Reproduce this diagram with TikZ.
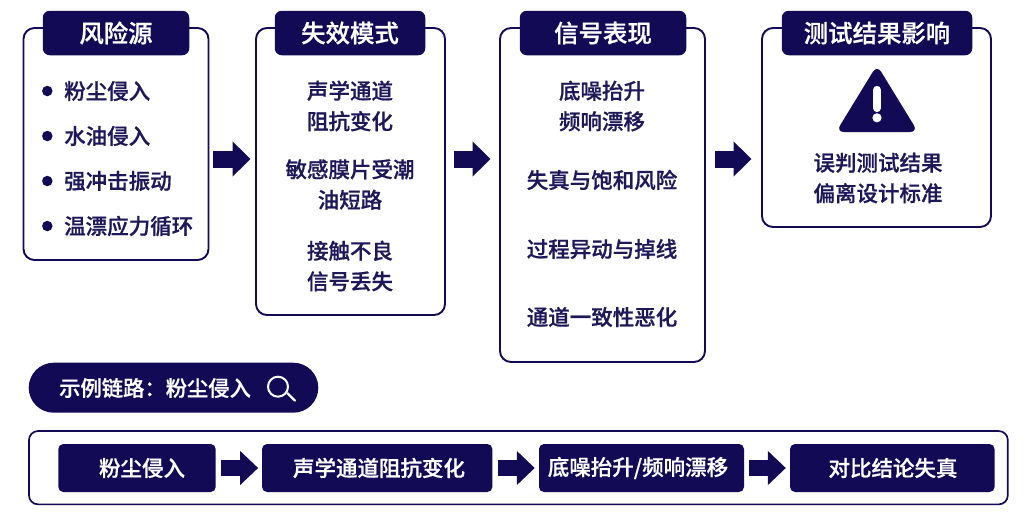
\documentclass[tikz,border=0pt]{standalone}
\usepackage{fontspec}
\usetikzlibrary{arrows.meta,calc}
\newfontfamily\cjk[FakeBold=0.7]{Noto Sans CJK SC Medium}
\definecolor{navy}{HTML}{130A56}
\definecolor{inktxt}{HTML}{1E1858}
\tikzset{
  panel/.style={draw=navy,line width=1.9pt,rounded corners=11pt,fill=white,inner sep=0pt},
  head/.style={fill=navy,rounded corners=7pt,text=white,inner sep=0pt,font=\cjk\fontsize{24.4}{28}\selectfont},
  body/.style={text=inktxt,inner sep=0pt,font=\cjk\fontsize{21.5}{30.5}\selectfont,align=center},
  item/.style={body,anchor=west},
  dotmark/.style={circle,fill=navy,minimum size=10.5pt,inner sep=0pt},
  flow/.style={fill=navy,rounded corners=5pt,text=white,inner sep=0pt,minimum height=48pt,font=\cjk\fontsize{21.5}{25}\selectfont},
  bigarrow/.style={draw=navy,line width=17pt,-{Triangle[length=18pt,width=34pt]}},
  smallarrow/.style={draw=navy,line width=16pt,-{Triangle[length=18pt,width=33pt]}},
}
\begin{document}
\begin{tikzpicture}[x=1pt,y=-1pt]
\path[fill=white,use as bounding box] (0,0) rectangle (1033,523);
% panels
\node[panel,minimum width=185pt,minimum height=232pt] (p1) at (116,144) {};
\node[panel,minimum width=189pt,minimum height=287pt] (p2) at (350.5,171.5) {};
\node[panel,minimum width=205pt,minimum height=334pt] (p3) at (602.5,195) {};
\node[panel,minimum width=229pt,minimum height=199pt] (p4) at (876.5,127.5) {};
% headers
\node[head,minimum width=146.5pt,minimum height=44.5pt] (h1) at (116,33) {风险源};
\node[head,minimum width=150.5pt,minimum height=44.5pt] (h2) at (350,33) {失效模式};
\node[head,minimum width=166.5pt,minimum height=44.5pt] (h3) at (603,33) {信号表现};
\node[head,minimum width=190.5pt,minimum height=44.5pt] (h4) at (877,33) {测试结果影响};
% column 1
\node[dotmark] (b1) at (47.3,91) {};
\node[dotmark] (b2) at (47.3,136) {};
\node[dotmark] (b3) at (47.3,181) {};
\node[dotmark] (b4) at (47.3,226) {};
\node[item] (t11) at (64,91) {粉尘侵入};
\node[item] (t12) at (64,136) {水油侵入};
\node[item] (t13) at (64,181) {强冲击振动};
\node[item] (t14) at (64,226) {温漂应力循环};
% column 2
\node[body] (t21) at (350,106) {声学通道\\阻抗变化};
\node[body] (t22) at (350,184.5) {敏感膜片受潮\\油短路};
\node[body] (t23) at (350,266) {接触不良\\信号丢失};
% column 3
\node[body] (t31) at (602,106) {底噪抬升\\频响漂移};
\node[body] (t32) at (602,180) {失真与饱和风险};
\node[body] (t33) at (602,249) {过程异动与掉线};
\node[body] (t34) at (602,317) {通道一致性恶化};
% column 4
\node[body] (t41) at (878,178) {误判测试结果\\偏离设计标准};
% warning sign
\fill[navy,rounded corners=8pt] (877,65) -- (918,132) -- (836,132) -- cycle;
\fill[white,rounded corners=3.5pt] (873.2,86) rectangle (880.8,112);
\fill[white] (877,117.8) circle (4.6pt);
% main arrows
\coordinate (lvl) at (0,159);
\draw[bigarrow,shorten <=4pt,shorten >=4.5pt] (p1.east |- lvl) -- (p2.west |- lvl);
\draw[bigarrow,shorten <=8pt,shorten >=8.5pt] (p2.east |- lvl) -- (p3.west |- lvl);
\draw[bigarrow,shorten <=9.5pt,shorten >=9.5pt] (p3.east |- lvl) -- (p4.west |- lvl);
% example pill
\node[fill=navy,rounded corners=25pt,minimum width=289.6pt,minimum height=50pt,inner sep=0pt] (pill) at (173.5,387.7) {};
\node[text=white,inner sep=0pt,anchor=west,font=\cjk\fontsize{21.3}{25}\selectfont] (pt) at (59,388) {示例链路：粉尘侵入};
\draw[white,line width=2pt] (278,386.7) circle (10pt);
\draw[white,line width=2.2pt,line cap=round] (287.4,393.2) -- (295,400.7);
% lower frame
\node[panel,line width=1.7pt,rounded corners=9pt,minimum width=978.8pt,minimum height=73.3pt] (frame) at (518.4,467.7) {};
\node[flow,minimum width=157.4pt] (f1) at (137,468) {};
\node[flow,minimum width=230.3pt] (f2) at (377.2,468) {};
\node[flow,minimum width=205pt] (f3) at (641.5,468) {};
\node[flow,minimum width=204.5pt] (f4) at (892.3,468) {};
\node[text=white,inner sep=0pt,font=\cjk\fontsize{21.5}{25}\selectfont] (l1) at (142,468) {粉尘侵入};
\node[text=white,inner sep=0pt,font=\cjk\fontsize{21.5}{25}\selectfont] (l2) at (379,468) {声学通道阻抗变化};
\node[text=white,inner sep=0pt,font=\cjk\fontsize{21.5}{25}\selectfont] (l3) at (638,468) {底噪抬升/频响漂移};
\node[text=white,inner sep=0pt,font=\cjk\fontsize{21.5}{25}\selectfont] (l4) at (893,468) {对比结论失真};
\draw[smallarrow,shorten <=5.3pt,shorten >=3.7pt] (f1) -- (f2);
\draw[smallarrow,shorten <=5pt,shorten >=4pt] (f2) -- (f3);
\draw[smallarrow,shorten <=5pt,shorten >=4pt] (f3) -- (f4);
\end{tikzpicture}
\end{document}
